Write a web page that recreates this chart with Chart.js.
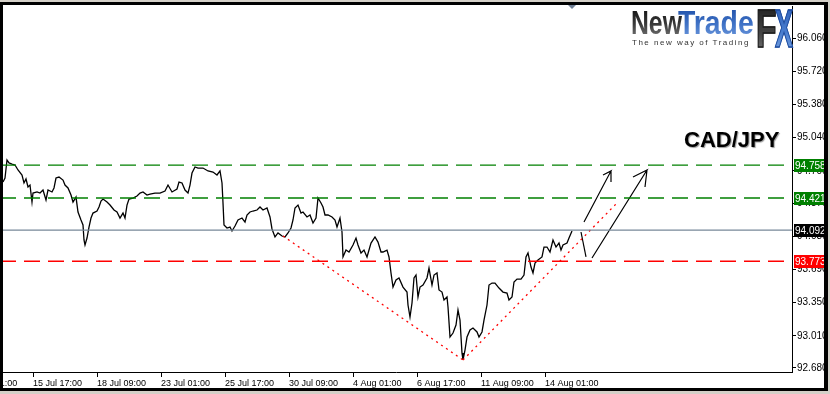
<!DOCTYPE html>
<html>
<head>
<meta charset="utf-8">
<script src="https://cdn.jsdelivr.net/npm/chart.js@4.4.1/dist/chart.umd.min.js"></script>
<style>
  html, body { margin: 0; padding: 0; background: #fff; }
  #wrap { position: relative; width: 830px; height: 394px; overflow: hidden; font-family: 'Liberation Sans', Arial, sans-serif; }
  #chart { position: absolute; left: 0; top: 0; }
  .logo { position: absolute; font-weight: bold; white-space: nowrap; line-height: 1; transform-origin: 0 0;
          -webkit-background-clip: text; background-clip: text; color: transparent; }
  #logoNew { left: 631px; top: 6px; font-size: 33px; transform: scaleX(0.75);
             background-image: linear-gradient(#0c0c0c, #3a3a3a 55%, #7a7a7a); }
  #logoTrade { left: 678px; top: 6px; font-size: 33px; transform: scaleX(0.86);
               background-image: linear-gradient(#1e4ea6, #3f72c6 55%, #6d98dc); }
  #logoF { left: 756px; top: 1px; font-size: 54px; transform: scaleX(0.62); -webkit-text-stroke: 1.5px #1a1a1a;
           background-image: linear-gradient(#1a1a1a, #444 60%, #777); }
  #logoX { left: 775px; top: 1px; font-size: 54px; transform: scaleX(0.5); -webkit-text-stroke: 1.5px #1d4a9c;
           background-image: linear-gradient(#2a5bb5, #4a7fd0 60%, #7aa3e0); }
  #tagline { position: absolute; left: 632px; top: 38px; font-size: 8px; letter-spacing: 1.5px; color: #333; white-space: nowrap; }
  #pair { position: absolute; left: 684px; top: 129px; font-size: 22px; line-height: 22px; font-weight: bold; color: #000;
          text-shadow: 1px 1px 1px #999; white-space: nowrap; }
</style>
</head>
<body>
<div id="wrap">
  <canvas id="chart" width="830" height="394"></canvas>
  <div class="logo" id="logoNew">New</div>
  <div class="logo" id="logoTrade">Trade</div>
  <div class="logo" id="logoF">F</div>
  <div class="logo" id="logoX">X</div>
  <div id="tagline">The new way of Trading</div>
  <div id="pair">CAD/JPY</div>
</div>
<script>
// hourly bars, index = bar number on the chart
const barIndex = [3,5,7,9,12,15,18,22,24,26,28,30,32,33,37,40,43,46,48,52,54,56,59,63,65,68,71,73,76,78,81,83,84,85,87,89,91,93,97,99,101,103,107,110,114,117,120,123,125,127,129,133,137,140,143,147,150,155,160,165,168,172,177,179,182,185,188,190,192,195,198,203,208,213,217,220,222,223,224,227,230,232,235,238,242,245,247,250,253,257,260,263,267,270,272,275,278,282,285,288,291,293,295,298,301,303,307,310,313,316,318,321,323,325,328,332,335,337,340,342,343,346,349,353,356,358,361,364,367,371,375,378,381,383,387,389,391,393,396,399,403,407,408,410,412,414,416,418,420,423,427,429,432,434,437,439,442,444,447,448,450,453,456,458,460,462,463,465,467,470,473,477,479,482,484,487,489,492,495,499,503,507,509,512,514,517,521,524,526,528,531,533,535,538,542,544,547,550,553,556,559,561,563,567,569,572];
const closePrice = [94.585,94.626,94.810,94.780,94.769,94.759,94.708,94.657,94.575,94.616,94.534,94.554,94.380,94.472,94.483,94.472,94.503,94.401,94.503,94.483,94.524,94.626,94.636,94.605,94.554,94.524,94.452,94.380,94.431,94.278,94.196,94.145,93.991,93.940,94.011,94.124,94.216,94.267,94.288,94.329,94.390,94.411,94.380,94.349,94.298,94.278,94.216,94.267,94.216,94.349,94.411,94.421,94.442,94.472,94.483,94.452,94.462,94.472,94.472,94.493,94.554,94.483,94.513,94.585,94.575,94.503,94.472,94.554,94.677,94.739,94.728,94.728,94.698,94.687,94.657,94.698,94.575,94.370,94.145,94.114,94.124,94.083,94.134,94.196,94.216,94.175,94.247,94.278,94.288,94.298,94.329,94.298,94.319,94.227,94.104,94.022,94.063,94.032,94.022,94.063,94.114,94.196,94.319,94.349,94.267,94.278,94.227,94.247,94.165,94.216,94.421,94.370,94.329,94.247,94.247,94.227,94.196,94.124,94.216,94.073,93.817,93.888,93.868,93.940,94.011,93.940,93.858,93.888,93.817,93.960,94.022,93.970,93.868,93.868,93.888,93.817,93.653,93.509,93.581,93.602,93.509,93.458,93.325,93.202,93.346,93.602,93.632,93.407,93.509,93.530,93.602,93.704,93.530,93.632,93.653,93.479,93.458,93.376,93.407,93.305,92.997,93.038,93.120,93.274,93.171,92.833,92.762,92.864,92.997,93.069,93.090,93.049,92.997,93.049,93.171,93.325,93.530,93.550,93.550,93.499,93.458,93.448,93.376,93.407,93.561,93.591,93.591,93.632,93.817,93.858,93.714,93.653,93.755,93.786,93.817,93.919,93.919,93.868,93.991,93.919,93.960,93.888,93.940,93.960,94.011,94.083];

// horizontal levels
const levelPrices = [94.758, 94.421, 94.092, 93.773];
const levelColors = ['#008000', '#008000', '#778899', '#ff0000'];
const levelBoxColors = ['#008000', '#008000', '#000000', '#ff0000'];

// drawn trend lines and arrows (bar index, price)
const trendDownX = [283, 463];
const trendDownY = [94.032, 92.762];
const trendUpX = [463, 617];
const trendUpY = [92.762, 94.370];
const pullbackX = [581, 586];
const pullbackY = [94.073, 93.817];
const arrowAX = [584, 611, 603, 611, 611];
const arrowAY = [94.175, 94.698, 94.657, 94.698, 94.585];
const arrowBX = [592, 647, 633, 647, 645];
const arrowBY = [93.807, 94.708, 94.636, 94.708, 94.534];

// axis ticks
const timeTicks = [-31, 33, 97, 161, 225, 289, 353, 417, 481, 545];
const timeLabels = ['11 Jul 01:00', '15 Jul 17:00', '18 Jul 09:00', '23 Jul 01:00', '25 Jul 17:00', '30 Jul 09:00', '4 Aug 01:00', '6 Aug 17:00', '11 Aug 09:00', '14 Aug 01:00'];
const priceTicks = [96.060, 95.720, 95.380, 95.040, 94.700, 94.370, 94.030, 93.690, 93.350, 93.010, 92.680];

function pts(xs, ys) {
    return xs.map((x, i) => ({ x: x, y: ys[i] }));
}

function lineSet(data, color, width, dash) {
    return {
        data: data,
        showLine: true,
        borderColor: color,
        borderWidth: width,
        borderDash: dash || [],
        pointRadius: 0,
        tension: 0
    };
}

const datasets = [];
levelPrices.forEach((lv, i) => {
    datasets.push(lineSet([{ x: 0, y: lv }, { x: 792, y: lv }], levelColors[i], 1.4, i === 2 ? [] : [16, 8]));
});
datasets.push(lineSet(pts(trendDownX, trendDownY), '#ff0000', 1.3, [2, 4]));
datasets.push(lineSet(pts(trendUpX, trendUpY), '#ff0000', 1.3, [2, 4]));
datasets.push(lineSet(pts(barIndex, closePrice), '#000000', 1.3));
datasets.push(lineSet(pts(pullbackX, pullbackY), '#000000', 1.2));
datasets.push(lineSet(pts(arrowAX, arrowAY), '#000000', 1.2));
datasets.push(lineSet(pts(arrowBX, arrowBY), '#000000', 1.2));

//price boxes on the right axis + window frame
const overlay = {
    id: 'overlay',
    afterDraw(chart) {
        const ctx = chart.ctx;
        const ys = chart.scales.y;
        const xs = chart.scales.x;
        const right = chart.chartArea.right;
        ctx.save();
        ctx.font = "10px 'Liberation Sans'";
        ctx.textBaseline = 'middle';
        ctx.textAlign = 'left';
        levelPrices.forEach((lv, i) => {
            const py = Math.round(ys.getPixelForValue(lv));
            ctx.fillStyle = levelBoxColors[i];
            ctx.fillRect(right + 2, py - 6, 40, 13);
            ctx.fillStyle = '#fff';
            ctx.fillText(lv.toFixed(3), right + 3, py + 1);
        });
        // shift marker
        const mx = Math.round(xs.getPixelForValue(barIndex[barIndex.length - 1]));
        ctx.fillStyle = '#6f7f95';
        ctx.beginPath();
        ctx.moveTo(mx - 4, 5);
        ctx.lineTo(mx + 4, 5);
        ctx.lineTo(mx, 9);
        ctx.closePath();
        ctx.fill();
        // frame
        ctx.fillStyle = '#d4d0c8';
        ctx.fillRect(0, 0, 830, 2);
        ctx.fillRect(0, 391, 830, 3);
        ctx.fillRect(828, 0, 2, 394);
        ctx.fillStyle = '#000';
        ctx.fillRect(0, 2, 3, 389);
        ctx.fillRect(0, 2, 828, 3);
        ctx.fillRect(824, 2, 4, 389);
        ctx.fillRect(0, 388, 828, 3);
        ctx.restore();
    }
};

Chart.defaults.font.family = "'Liberation Sans', Arial, sans-serif";
Chart.defaults.color = '#000';

new Chart(document.getElementById('chart'), {
    type: 'scatter',
    data: { datasets: datasets },
    options: {
        responsive: false,
        devicePixelRatio: 1,
        animation: false,
        layout: { padding: { top: 6, left: 0, right: 0, bottom: 0 } },
        plugins: {
            legend: { display: false },
            tooltip: { enabled: false }
        },
        scales: {
            x: {
                type: 'linear',
                position: 'bottom',
                min: 0,
                max: 792,
                afterBuildTicks: s => { s.ticks = timeTicks.map(v => ({ value: v })); },
                afterFit: s => { s.height = 22; s.paddingLeft = 0; s.paddingRight = 0; },
                ticks: {
                    autoSkip: false,
                    maxRotation: 0,
                    align: 'start',
                    padding: 1,
                    font: { size: 9 },
                    callback: (v, i) => timeLabels[i]
                },
                grid: { drawOnChartArea: false, tickLength: 5, color: '#000' },
                border: { color: '#000' }
            },
            y: {
                type: 'linear',
                position: 'right',
                min: 92.639,
                max: 96.3878,
                afterBuildTicks: s => { s.ticks = priceTicks.map(v => ({ value: v })); },
                afterFit: s => { s.width = 38; s.paddingTop = 0; s.paddingBottom = 0; },
                ticks: {
                    autoSkip: false,
                    padding: 1,
                    font: { size: 10 },
                    callback: (v, i) => priceTicks[i].toFixed(3)
                },
                grid: { drawOnChartArea: false, tickLength: 4, color: '#000' },
                border: { color: '#000' }
            }
        }
    },
    plugins: [overlay]
});
</script>
</body>
</html>
